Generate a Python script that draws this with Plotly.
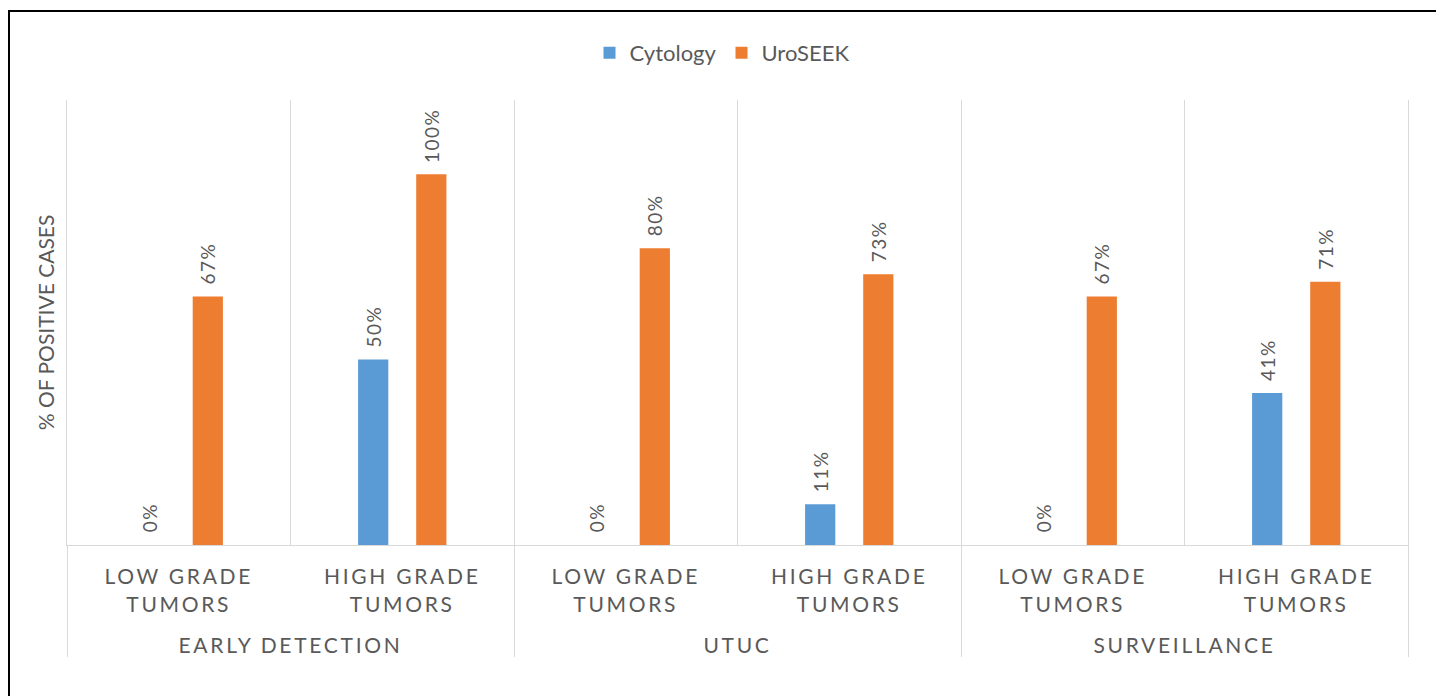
import plotly.graph_objects as go

groups = ["EARLY DETECTION", "EARLY DETECTION", "UTUC", "UTUC", "SURVEILLANCE", "SURVEILLANCE"]
subcats = ["LOW GRADE<br>TUMORS<br>\u00a0", "HIGH GRADE<br>TUMORS<br>\u00a0"] * 3
cytology = [0.0, 0.50, 0.0, 0.11, 0.0, 0.41]
uroseek = [0.67, 1.00, 0.80, 0.73, 0.67, 0.71]

BLUE = "#5B9BD5"
ORANGE = "#ED7D31"
GRAY = "#595959"
GRID = "#D9D9D9"
FONT = "Lato"

OFF = 8  # page body margin
W, H = 1444 - OFF, 696 - OFF
L = 67 - OFF
R = W - (1408 - OFF)
T = 100 - OFF
B = H - (545 - OFF)
pw, ph = W - L - R, H - T - B


def px(x):
    return (x - OFF - L) / pw


def py(y):
    return (545 - y) / ph


fig = go.Figure()
for name, vals, col in [("Cytology", cytology, BLUE), ("UroSEEK", uroseek, ORANGE)]:
    fig.add_bar(
        x=[groups, subcats], y=vals, name=name, marker_color=col,
        marker_line_width=0,
        texttemplate="\u00a0\u00a0%{y:.0%}", textposition="outside", textangle=-90,
        textfont=dict(family=FONT, size=19, color=GRAY), cliponaxis=False,
        constraintext="none",
    )

fig.add_shape(type="rect", xref="paper", yref="paper",
              x0=px(9), x1=px(1439), y0=py(760), y1=py(11),
              line=dict(color="black", width=2), fillcolor="rgba(0,0,0,0)", layer="below")

fig.update_layout(
    width=W, height=H,
    margin=dict(l=L, r=R, t=T, b=B, autoexpand=False),
    paper_bgcolor="white", plot_bgcolor="white",
    barmode="group", bargap=0.48, bargroupgap=0.48,
    font=dict(family=FONT, color=GRAY, size=21),
    showlegend=True,
    legend=dict(orientation="h", x=px(722), xanchor="center", y=py(53), yanchor="middle",
                font=dict(family=FONT, size=22, color=GRAY), traceorder="normal",
                itemwidth=30),
    xaxis=dict(type="multicategory", showgrid=True, gridcolor=GRID, gridwidth=1,
               showline=True, linecolor=GRID, linewidth=1, ticks="",
               ticklabelstandoff=13,
               showdividers=True, dividercolor=GRID, dividerwidth=1,
               tickfont=dict(family=FONT, size=21, color=GRAY)),
    yaxis=dict(range=[0, 1.2], showticklabels=False, showgrid=False, zeroline=False,
               showline=True, linecolor=GRID, linewidth=1, mirror=True, ticks="",
               title=dict(text="% OF POSITIVE CASES", font=dict(family=FONT, size=21, color=GRAY),
                          standoff=5)),
)

post = """
var gd = document.getElementById('{plot_id}');
function spacing(){
  gd.querySelectorAll('.xaxislayer-above text').forEach(function(t){ t.style.letterSpacing = '2.7px'; });
  gd.querySelectorAll('text.bartext').forEach(function(t){ t.style.letterSpacing = '1.5px'; });
}
spacing();
gd.on('plotly_afterplot', spacing);
"""

fig.write_html("out.html", post_script=post)
